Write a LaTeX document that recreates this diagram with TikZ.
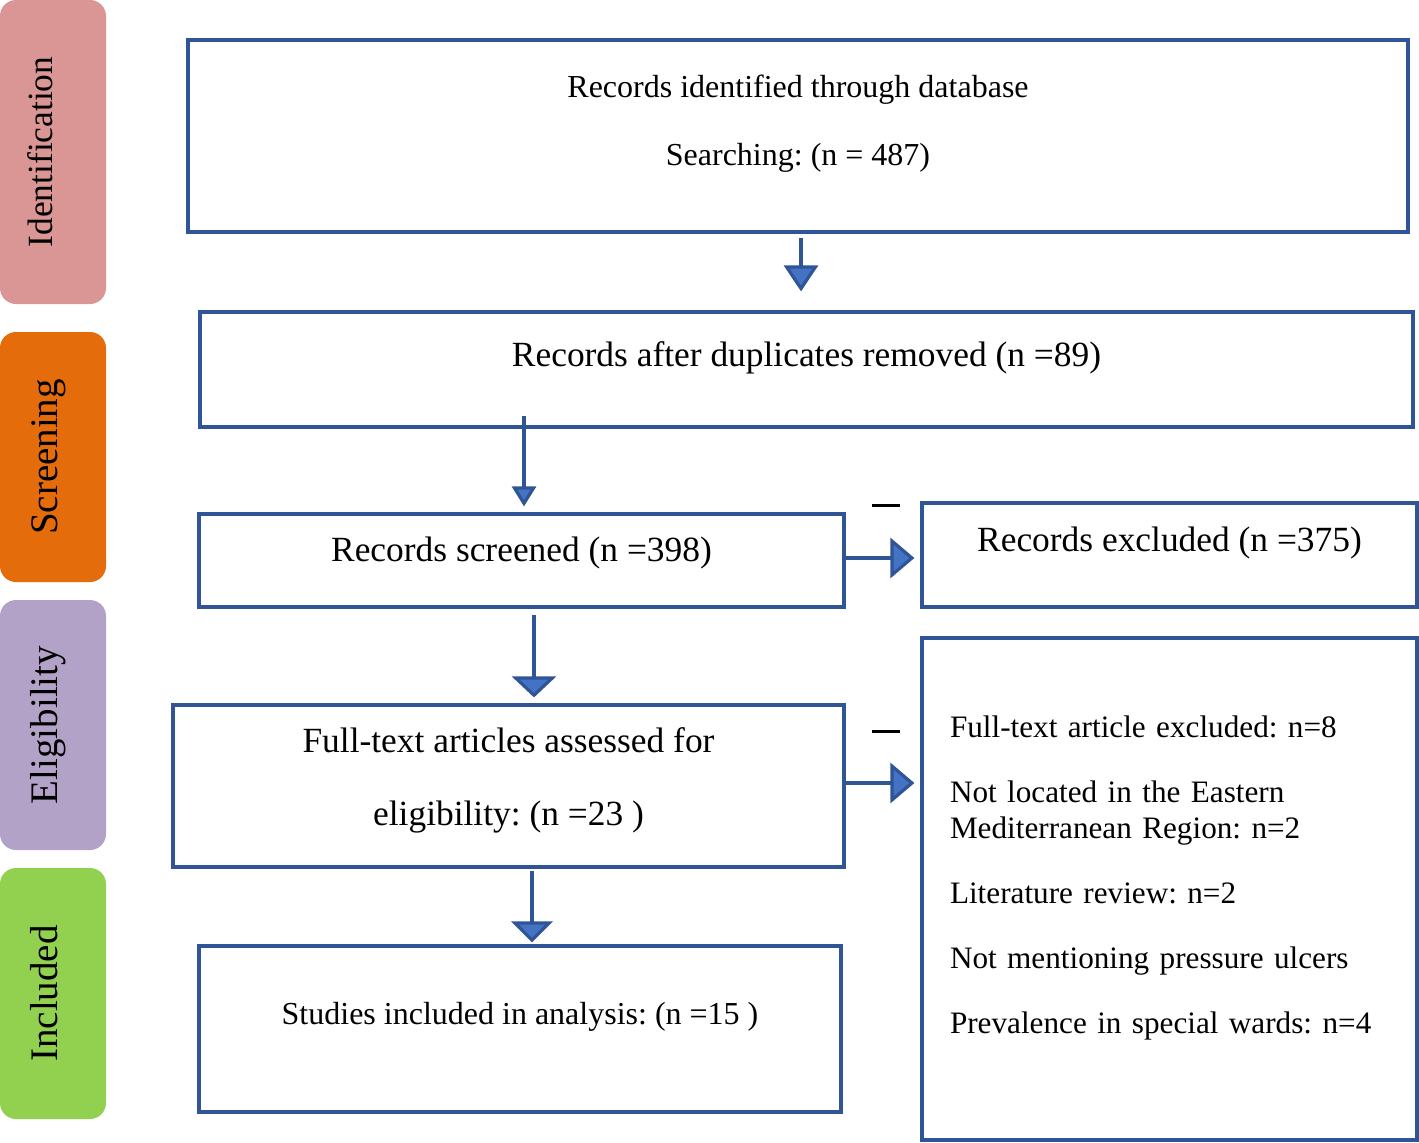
\documentclass[tikz,border=0pt]{standalone}
\usepackage{fontspec}
\setmainfont{Liberation Serif}
\usetikzlibrary{arrows.meta}
\definecolor{boxblue}{RGB}{47,85,151}
\definecolor{tipblue}{RGB}{68,114,196}
\definecolor{identpink}{RGB}{217,150,148}
\definecolor{screenorange}{RGB}{228,108,10}
\definecolor{eligviolet}{RGB}{179,162,199}
\definecolor{inclgreen}{RGB}{146,208,80}
\newcommand{\lowdepth}[1]{\rule[-#1]{0pt}{#1}}
\frenchspacing

\begin{document}
\begin{tikzpicture}[x=1pt,y=-1pt,
  stage/.style={rounded corners=8pt, rotate=90, inner sep=0pt, minimum height=53pt, text height=14pt, text depth=9.5pt, font=\fontsize{19.5}{22}\selectfont},
  box/.style={draw=boxblue, line width=1.6pt, inner sep=0pt, align=center},
  big/.style={font=\fontsize{17.7}{21}\selectfont},
  small/.style={font=\fontsize{16}{19}\selectfont},
  dashmark/.style={inner sep=0pt},
  flow/.style={draw=boxblue, line width=1.6pt},
  flowto/.style 2 args={flow, -{Triangle[length=#1, width=#2, fill=tipblue]}}
]
\useasboundingbox (0,0) rectangle (709.5,571);

%Shape: Stage labels
\node[stage, fill=identpink, minimum width=152pt, text height=12pt, text depth=13pt, font=\fontsize{17.7}{20}\selectfont] (identification) at (26.5,76) {Identification};
\node[stage, fill=screenorange, minimum width=125pt] (screening) at (26.5,228.5) {Screening};
\node[stage, fill=eligviolet, minimum width=125pt] (eligibility) at (26.5,362.5) {Eligibility};
\node[stage, fill=inclgreen, minimum width=125.5pt] (included) at (26.5,496.75) {Included};

%Shape: Rectangle
\node[box, minimum width=610pt, minimum height=96pt, font=\fontsize{16}{34}\selectfont] (ident) at (399,68) {Records identified through database\\Searching: (n = 487)\lowdepth{15.5pt}};
%Shape: Rectangle
\node[box, big, minimum width=606.5pt, minimum height=57.5pt] (dup) at (403.25,184.75) {Records after duplicates removed (n =89)\lowdepth{15.2pt}};
%Shape: Rectangle
\node[box, big, minimum width=322.5pt, minimum height=46.5pt] (screened) at (260.75,280.25) {Records screened (n =398)\lowdepth{11.2pt}};
%Shape: Rectangle
\node[box, big, minimum width=247.5pt, minimum height=52pt] (excl) at (584.75,277.5) {Records excluded (n =375)\lowdepth{15.7pt}};
%Shape: Rectangle
\node[box, minimum width=335.5pt, minimum height=81pt, font=\fontsize{17.7}{36.5}\selectfont] (full) at (254.25,393) {Full-text articles assessed for\\eligibility: (n =23 )\lowdepth{9.2pt}};
%Shape: Rectangle
\node[box, minimum width=247.5pt, minimum height=251pt, align=left, text width=219.5pt, font=\fontsize{15.6}{18}\selectfont] (reasons) at (584.75,444.5) {Full-text article excluded: n=8\\[14.5pt]
  Not located in the Eastern\\
  Mediterranean Region: n=2\\[14.5pt]
  Literature review: n=2\\[14.5pt]
  Not mentioning pressure ulcers\\[14.5pt]
  Prevalence in special wards: n=4\lowdepth{14.6pt}};
%Shape: Rectangle
\node[box, small, minimum width=321pt, minimum height=83pt] (incl) at (260,514.5) {Studies included in analysis: (n =15 )\lowdepth{15.5pt}};

% Text Node
\node[dashmark] (dashexcl) at (443,252.5) {\rule{14pt}{1.5pt}};
% Text Node
\node[dashmark] (dashfull) at (443,365.5) {\rule{14pt}{1.5pt}};

%Straight Lines
\draw[flowto={13pt}{17pt}] ([xshift=1.5pt,yshift=-2pt]ident.south) -- ([xshift=1.5pt,yshift=9.5pt]ident.south |- dup.north);
\draw[flowto={10pt}{12pt}] ([xshift=1.25pt,yshift=6.5pt]screened.north |- dup.south) -- ([xshift=1.25pt,yshift=3pt]screened.north);
\draw[flowto={12pt}{20pt}] ([yshift=1.25pt]screened.east) -- ([xshift=-3pt,yshift=1.25pt]screened.east -| excl.west);
\draw[flowto={10.5pt}{22pt}] ([xshift=6.25pt,yshift=-3pt]screened.south) -- ([xshift=6.25pt,yshift=3pt]screened.south |- full.north);
\draw[flowto={12pt}{20pt}] ([yshift=1.5pt]full.east) -- ([xshift=-3pt,yshift=1.5pt]full.east -| reasons.west);
\draw[flowto={10.5pt}{20.5pt}] ([xshift=11.75pt,yshift=-1pt]full.south) -- ([xshift=6pt,yshift=1pt]incl.north);
\end{tikzpicture}
\end{document}
